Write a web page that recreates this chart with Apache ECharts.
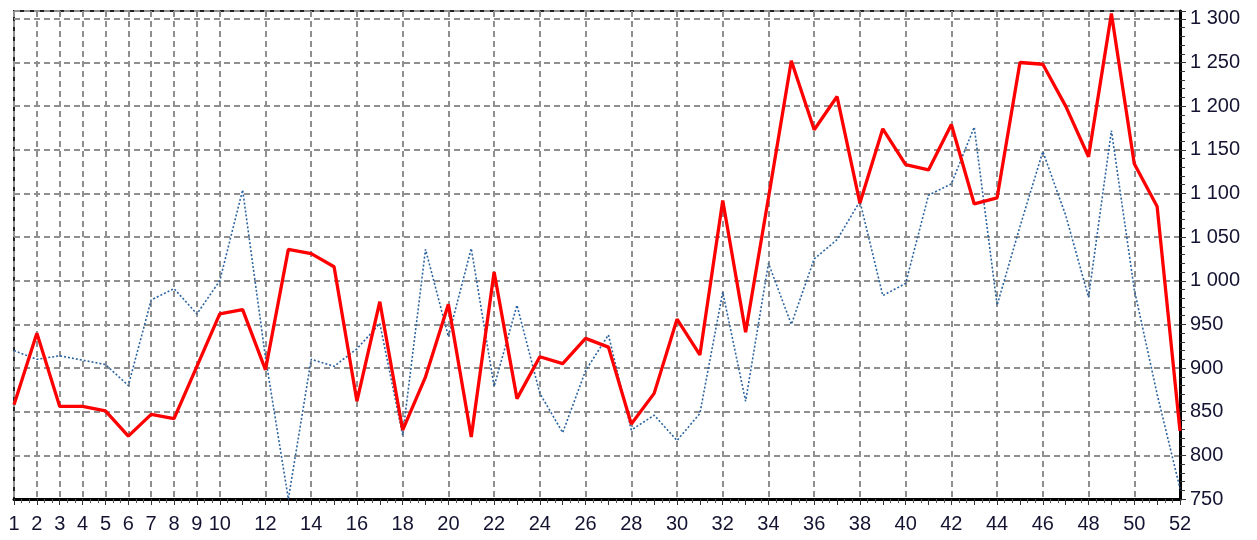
<!DOCTYPE html>
<html>
<head>
<meta charset="utf-8">
<script src="https://cdn.jsdelivr.net/npm/echarts@6/dist/echarts.min.js"></script>
<style>
  html, body { margin: 0; padding: 0; background: #fff; }
  #chart { width: 1257px; height: 540px; }
</style>
</head>
<body>
<div id="chart"></div>
<script>
const weeks = ['1','2','3','4','5','6','7','8','9','10','11','12','13','14','15','16','17','18','19','20',
  '21','22','23','24','25','26','27','28','29','30','31','32','33','34','35','36','37','38','39','40',
  '41','42','43','44','45','46','47','48','49','50','51','52']

// thick red line
const mainValues = [858, 940, 856, 856, 851, 822, 847, 842, 902, 962,
  967, 898, 1036, 1031, 1016, 862, 976, 829, 890, 973,
  821, 1010, 865, 913, 905, 934, 924, 836, 871, 956,
  915, 1092, 941, 1095, 1252, 1173, 1211, 1089, 1174, 1133,
  1127, 1179, 1088, 1095, 1250, 1248, 1200, 1142, 1306, 1134,
  1085, 828]

// dotted blue line
const otherValues = [920, 910, 914, 909, 904, 880, 978, 991, 962, 1000,
  1104, 912, 750, 910, 902, 922, 951, 823, 1036, 936,
  1037, 879, 972, 871, 826, 897, 938, 829, 846, 817,
  848, 987, 862, 1020, 950, 1025, 1047, 1091, 983, 997,
  1098, 1111, 1176, 972, 1062, 1148, 1075, 981, 1172, 990,
  870, 762]

const yMin = 750
const yMax = 1309
const yStep = 50

const gridDash = { color: '#8f8f8f', width: 2, type: [6, 4] }
const font = 'Liberation Sans'

// labels 1..10, then only even weeks
const showWeek = (i) => i < 10 || i % 2 === 1

const fmt = v => v >= 1000 ? Math.floor(v / 1000) + ' ' + String(v % 1000).padStart(3, '0') : String(v)

const chart = echarts.init(document.getElementById('chart'))
chart.setOption({
  animation: false,
  grid: {
    left: 14, right: 77, top: 11, bottom: 41,
    show: true, borderColor: '#222', borderWidth: 2
  },
  xAxis: [
    {
      type: 'category',
      data: weeks,
      boundaryGap: false,
      axisLine: { lineStyle: { color: '#000', width: 3 } },
      axisTick: { show: true, interval: 0, length: 6, lineStyle: { color: '#333' } },
      axisLabel: {
        interval: showWeek, margin: 15,
        fontFamily: font, fontSize: 20, color: '#141432'
      },
      splitLine: { show: true, interval: showWeek, lineStyle: gridDash }
    },
    {
      type: 'value',
      min: 1, max: 52, interval: 1,
      position: 'bottom',
      axisLine: { show: false },
      axisTick: { show: false },
      minorTick: { show: true, splitNumber: 3, length: 4, lineStyle: { color: '#555' } },
      axisLabel: { show: false },
      splitLine: { show: false }
    }
  ],
  yAxis: {
    type: 'value',
    position: 'right',
    min: yMin, max: yMax, interval: yStep,
    axisLine: { show: true, lineStyle: { color: '#000', width: 3 } },
    axisTick: { show: true, length: 6, lineStyle: { color: '#333' } },
    minorTick: { show: true, splitNumber: 5, length: 5, lineStyle: { color: '#333' } },
    axisLabel: {
      showMaxLabel: false, margin: 10,
      fontFamily: font, fontSize: 20, color: '#141432',
      formatter: fmt
    },
    splitLine: { show: true, lineStyle: gridDash }
  },
  series: [
    {
      type: 'line',
      data: otherValues,
      showSymbol: false,
      lineStyle: { color: '#2c64a0', width: 1.6, type: [2, 2] },
      z: 2
    },
    {
      type: 'line',
      data: mainValues,
      showSymbol: false,
      lineStyle: { color: '#ff0000', width: 3.3 },
      z: 3
    }
  ]
})
</script>
</body>
</html>
